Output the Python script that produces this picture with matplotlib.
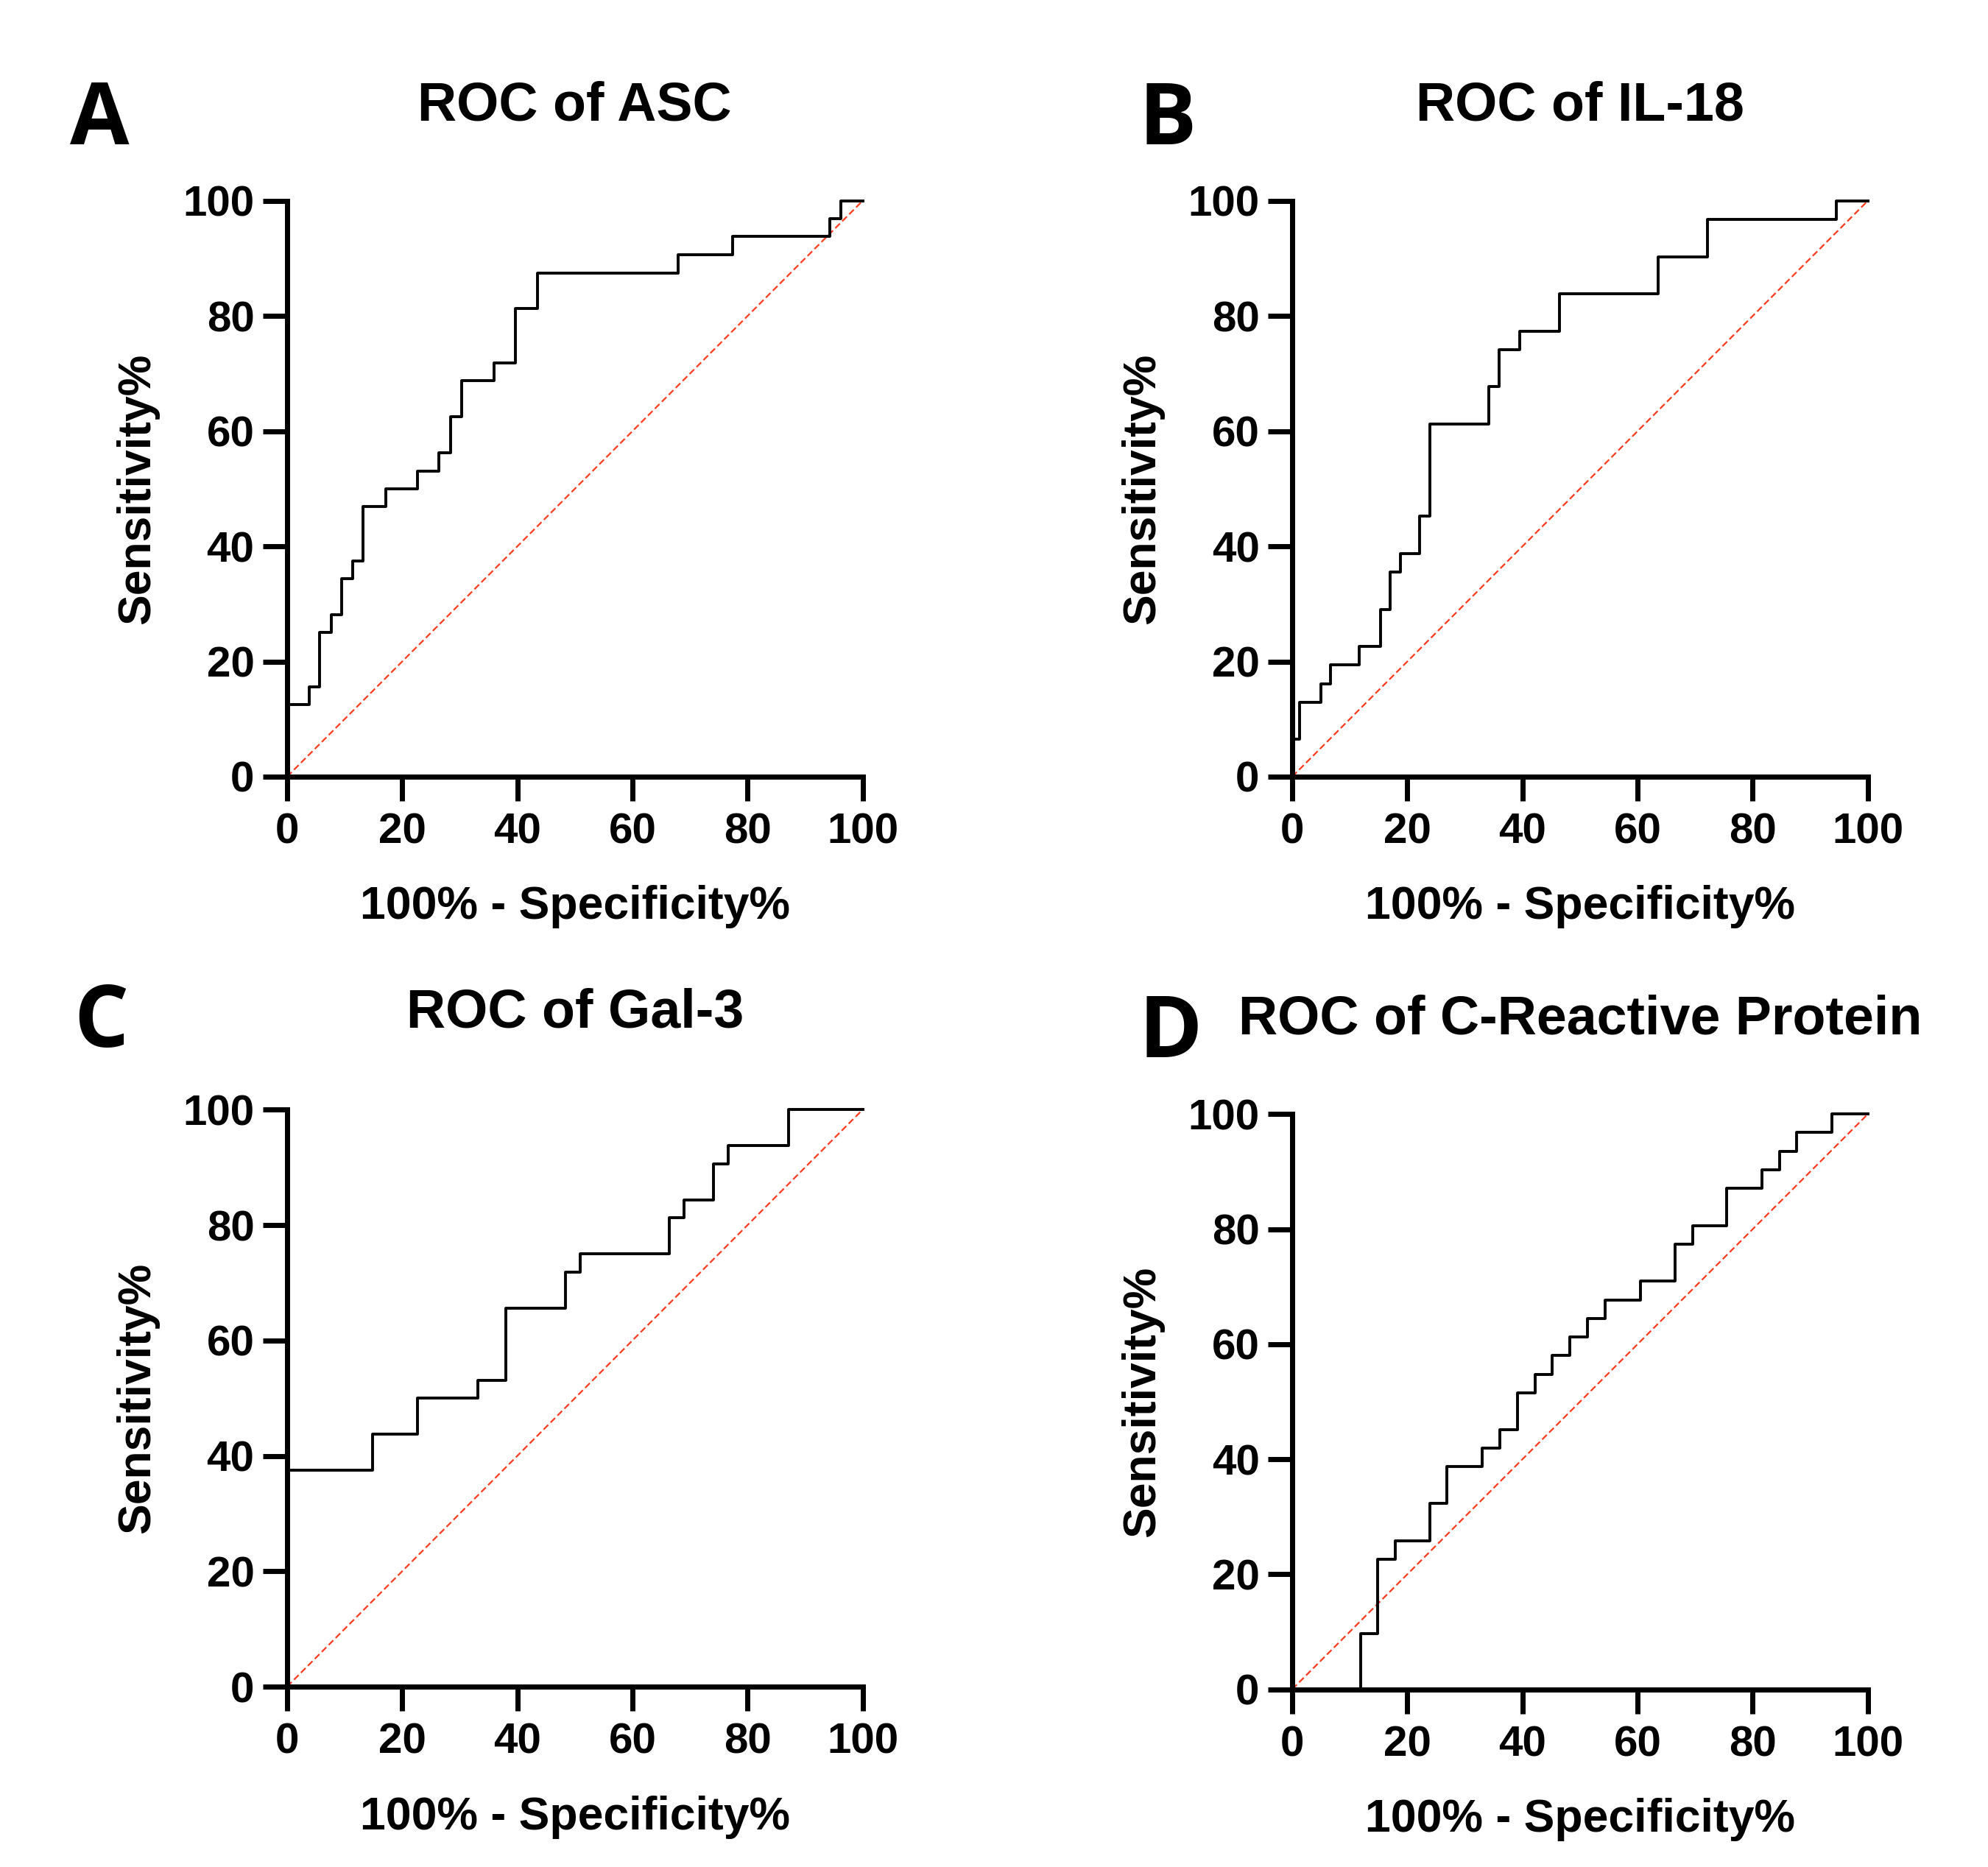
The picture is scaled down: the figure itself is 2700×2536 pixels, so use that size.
import matplotlib
matplotlib.use("Agg")
import matplotlib.pyplot as plt

# ROC curves (x = 100% - specificity, y = sensitivity)
asc_fpr = [0, 0, 3.8, 5.7, 7.7, 9.5, 11.4, 13.2, 17.1, 22.7, 26.4, 28.4, 30.3, 36.0, 39.7, 43.5, 68.0, 77.4, 94.3, 96.2, 100]
asc_sens = [0, 12.5, 15.6, 25.0, 28.1, 34.4, 37.5, 46.9, 50.0, 53.1, 56.3, 62.5, 68.8, 71.9, 81.3, 87.5, 90.6, 93.8, 96.9, 100, 100]

il18_fpr = [0, 0, 1.3, 5.0, 6.6, 11.7, 15.3, 17.0, 18.8, 22.1, 23.9, 34.2, 36.0, 39.5, 46.4, 63.6, 72.2, 94.6, 100]
il18_sens = [0, 6.5, 12.9, 16.1, 19.4, 22.6, 29.0, 35.5, 38.7, 45.2, 61.3, 67.7, 74.2, 77.4, 83.9, 90.3, 96.8, 100, 100]

gal3_fpr = [0, 0, 14.9, 22.6, 33.2, 38.0, 48.4, 50.9, 66.4, 69.0, 74.1, 76.7, 87.1, 100]
gal3_sens = [0, 37.5, 43.8, 50.0, 53.1, 65.6, 71.9, 75.0, 81.3, 84.4, 90.6, 93.8, 100, 100]

crp_fpr = [0, 11.9, 14.9, 17.9, 23.9, 26.9, 33.0, 36.1, 39.2, 42.2, 45.2, 48.2, 51.3, 54.4, 60.5, 66.5, 69.6, 75.5, 81.6, 84.7, 87.6, 93.8, 100]
crp_sens = [0, 9.7, 22.6, 25.8, 32.3, 38.7, 41.9, 45.2, 51.6, 54.8, 58.1, 61.3, 64.5, 67.7, 71.0, 77.4, 80.6, 87.1, 90.3, 93.5, 96.8, 100, 100]

titles = ["ROC of ASC", "ROC of IL-18", "ROC of Gal-3", "ROC of C-Reactive Protein"]
letters = ["A", "B", "C", "D"]
ticks = [0, 20, 40, 60, 80, 100]
chance = [0, 100]

plt.rcParams["font.family"] = ["Liberation Sans", "DejaVu Sans"]
plt.rcParams["font.weight"] = "bold"

fig = plt.figure(figsize=(27, 25.36), dpi=100)

# axes boxes in figure fractions [left, bottom, width, height]
boxes = [
    [0.1444, 0.584, 0.2895, 0.3084],
    [0.650, 0.584, 0.2895, 0.3084],
    [0.1444, 0.0966, 0.2895, 0.309],
    [0.650, 0.0952, 0.2895, 0.308],
]
letter_pos = [(0.035, 0.958), (0.5726, 0.958), (0.037, 0.4744), (0.5726, 0.4688)]
title_y = [1.165, 1.165, 1.168, 1.165]

curves = [(asc_fpr, asc_sens), (il18_fpr, il18_sens), (gal3_fpr, gal3_sens), (crp_fpr, crp_sens)]

for i, (fpr, sens) in enumerate(curves):
    ax = fig.add_axes(boxes[i])
    ax.plot(chance, chance, color="#ff3b1f", lw=1.6, linestyle=(0, (4, 2)), clip_on=False)
    ax.plot(fpr, sens, drawstyle="steps-post", color="black", lw=2.8, clip_on=False, zorder=3)

    ax.set_xlim(0, 100)
    ax.set_ylim(0, 100)
    ax.set_xticks(ticks)
    ax.set_yticks(ticks)
    for side in ["top", "right"]:
        ax.spines[side].set_visible(False)
    for side in ["left", "bottom"]:
        ax.spines[side].set_linewidth(5)
    ax.tick_params(axis="both", direction="out", length=24, width=5, labelsize=42)
    ax.tick_params(axis="x", pad=11)
    ax.tick_params(axis="y", pad=8)
    for lab in ax.get_xticklabels() + ax.get_yticklabels():
        lab.set_fontweight("bold")

    ax.set_xlabel("100% - Specificity%", fontsize=45, fontweight="bold")
    ax.set_ylabel("Sensitivity%", fontsize=45, fontweight="bold")
    ax.xaxis.set_label_coords(0.5, -0.226)
    ax.xaxis.label.set_va("center")
    ax.yaxis.set_label_coords(-0.26, 0.5)
    ax.yaxis.label.set_va("center")

    ax.text(0.5, title_y[i], titles[i], transform=ax.transAxes, ha="center", va="center",
            fontsize=53, fontweight="bold")
    fig.text(letter_pos[i][0], letter_pos[i][1], letters[i], ha="left", va="top",
             fontsize=84, fontweight="bold", family=["Open Sans", "DejaVu Sans"])

fig.savefig("out.png", dpi=100, facecolor="white")
